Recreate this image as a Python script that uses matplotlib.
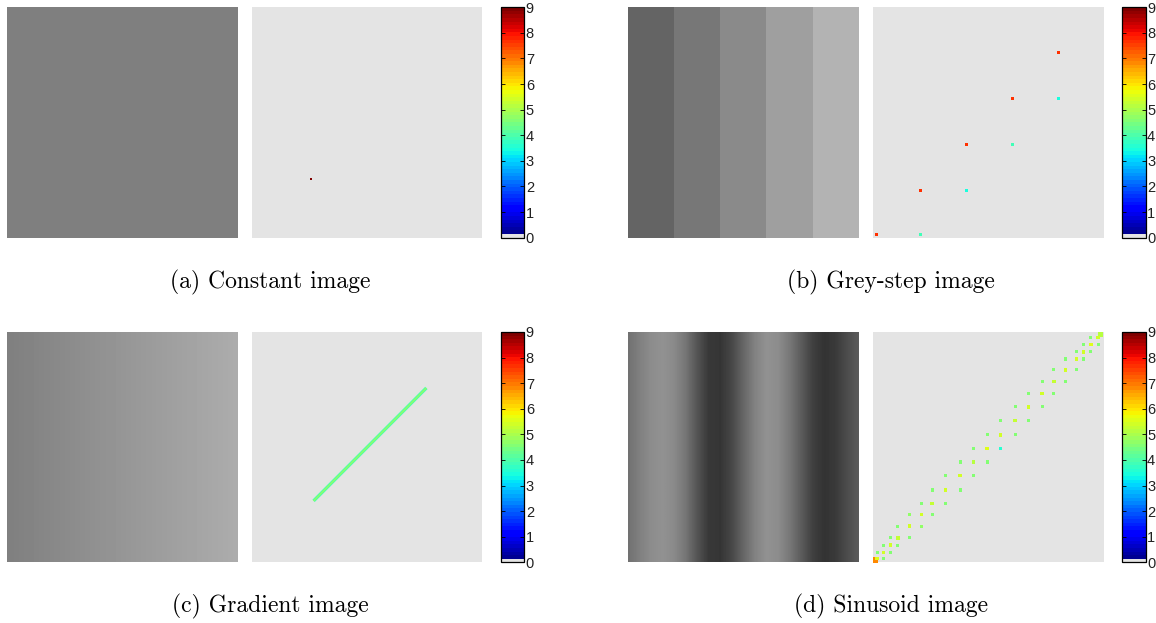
import numpy as np
import matplotlib
matplotlib.use('Agg')
import matplotlib.pyplot as plt
from matplotlib.colors import ListedColormap, Normalize, to_rgba
from matplotlib.cm import ScalarMappable

# grey images (intensity 0..1)
const_grey = [[0.498]]
step_grey = [[0.392, 0.467, 0.541, 0.624, 0.702]]
grad_grey = [0.498, 0.675]                 # left edge, right edge
sin_pos = [0.0, 0.05, 0.10, 0.15, 0.20, 0.25, 0.30, 0.35, 0.40, 0.45, 0.50,
           0.55, 0.60, 0.65, 0.70, 0.75, 0.80, 0.85, 0.90, 0.95, 1.0]
sin_grey = [0.44, 0.50, 0.55, 0.57, 0.54, 0.46, 0.33, 0.22, 0.21, 0.28, 0.40,
            0.51, 0.57, 0.55, 0.47, 0.36, 0.25, 0.20, 0.23, 0.30, 0.36]

# co-occurrence entries (grey level i, grey level j, log count)
const_x = [65]
const_y = [65]
const_val = [9.0]

step_levels = [3, 52, 103, 154, 205]
step_diag = [7.6, 7.6, 7.6, 7.6, 7.6]
step_off = [3.8, 3.5, 3.8, 3.5]

grad_start = 68
grad_end = 193
grad_val_outer = 4.0
grad_val_inner = 4.7

sin_levels = [4, 11, 19, 27, 40, 53, 65, 80, 96, 111, 126, 141, 157, 172,
              187, 200, 213, 225, 233, 241, 249]
sin_diag = [5.6, 5.4, 5.4, 5.3, 5.4, 5.4, 5.3, 5.4, 5.4, 5.1, 5.5, 5.4, 5.3,
            5.4, 5.4, 5.3, 5.4, 5.4, 5.4, 5.5, 5.4]
sin_off_lo = [4.6, 4.6, 4.6, 4.6, 4.7, 4.6, 4.6, 4.6, 4.6, 4.6, 4.6, 4.6,
              4.6, 4.6, 4.6, 4.6, 4.6, 4.6, 4.6, 4.6]
sin_off_hi = [4.6, 4.6, 4.6, 4.6, 4.7, 4.6, 4.6, 4.6, 4.6, 4.6, 3.6, 4.6,
              4.6, 4.6, 4.6, 4.6, 4.6, 4.6, 4.6, 4.6]
sin_corner_x = [2.5, 252]
sin_corner_y = [2.5, 252]
sin_corner_val = [6.8, 5.2]

captions = ['(a) Constant image', '(b) Grey-step image',
            '(c) Gradient image', '(d) Sinusoid image']

# jet(64) with the zero bin shown in light grey
bg = '#e4e4e4'
jet64 = plt.cm.jet(np.linspace(0, 1, 64))
jet64[0] = to_rgba(bg)
cmap = ListedColormap(jet64)
norm = Normalize(0, 9)

fig = plt.figure(figsize=(11.56, 6.23), dpi=100)

row_b = [0.6185, 0.0974]
col_x = [(0.0063, 0.2182, 0.4334), (0.5435, 0.7556, 0.9709)]
h = 0.3698
w_img = 0.199
w_cb = 0.0202


def make_axes(r, c):
    x_img, x_mat, x_cb = col_x[c]
    ax_img = fig.add_axes([x_img, row_b[r], w_img, h])
    ax_mat = fig.add_axes([x_mat, row_b[r], w_img, h])
    cax = fig.add_axes([x_cb, row_b[r], w_cb, h])
    ax_img.set_axis_off()
    ax_mat.set_facecolor(bg)
    ax_mat.set_xlim(0, 255)
    ax_mat.set_ylim(0, 255)
    ax_mat.set_xticks([])
    ax_mat.set_yticks([])
    for s in ax_mat.spines.values():
        s.set_visible(False)
    cb = fig.colorbar(ScalarMappable(norm=norm, cmap=cmap), cax=cax,
                      ticks=range(10))
    cb.outline.set_linewidth(0.9)
    cb.outline.set_edgecolor('black')
    cax.tick_params(axis='y', direction='in', length=3, width=0.6,
                    left=True, right=True, labelsize=10.5, pad=1,
                    labelcolor='#222222')
    for t in cax.get_yticklabels():
        t.set_fontfamily('Liberation Sans')
    return ax_img, ax_mat


def cells(ax, x, y, v, size, clip=True):
    ax.scatter(x, y, c=v, cmap=cmap, norm=norm, marker='s', s=size,
               linewidths=0, antialiased=False, clip_on=clip)


# (a) constant
ax_img, ax_mat = make_axes(0, 0)
ax_img.imshow(const_grey, cmap='gray', vmin=0, vmax=1, aspect='auto')
cells(ax_mat, const_x, const_y, const_val, 4)

# (b) grey steps
ax_img, ax_mat = make_axes(0, 1)
ax_img.imshow(step_grey, cmap='gray', vmin=0, vmax=1, aspect='auto',
              interpolation='nearest')
cells(ax_mat, step_levels, step_levels, step_diag, 4.5, clip=False)
cells(ax_mat, step_levels[1:], step_levels[:-1], step_off, 4.5, clip=False)

# (c) gradient
ax_img, ax_mat = make_axes(1, 0)
ax_img.imshow([grad_grey], cmap='gray', vmin=0, vmax=1, aspect='auto',
              interpolation='bilinear', extent=(-0.5, 1.5, 0, 1))
ax_img.set_xlim(0, 1)
ax_mat.plot([grad_start, grad_end], [grad_start, grad_end],
            color=cmap(norm(grad_val_outer)), lw=2.4, solid_capstyle='butt')
ax_mat.plot([grad_start, grad_end], [grad_start, grad_end],
            color=cmap(norm(grad_val_inner)), lw=1.0, solid_capstyle='butt')

# (d) sinusoid
ax_img, ax_mat = make_axes(1, 1)
half = (sin_pos[1] - sin_pos[0]) / 2
ax_img.imshow([sin_grey], cmap='gray', vmin=0, vmax=1, aspect='auto',
              interpolation='bilinear',
              extent=(sin_pos[0] - half, sin_pos[-1] + half, 0, 1))
ax_img.set_xlim(0, 1)
cells(ax_mat, sin_corner_x, sin_corner_y, sin_corner_val, 14, clip=False)
cells(ax_mat, sin_levels, sin_levels, sin_diag, 6)
cells(ax_mat, sin_levels[:-1], sin_levels[1:], sin_off_lo, 5)
cells(ax_mat, sin_levels[1:], sin_levels[:-1], sin_off_hi, 5)

# captions
cap_pos = [(0.2335, 0.547), (0.7707, 0.547), (0.2335, 0.027), (0.7707, 0.027)]
for (cx, cy), txt in zip(cap_pos, captions):
    fig.text(cx, cy, txt, ha='center', va='center', fontsize=17,
             family='cmr10')

fig.savefig('out.png', dpi=100)
